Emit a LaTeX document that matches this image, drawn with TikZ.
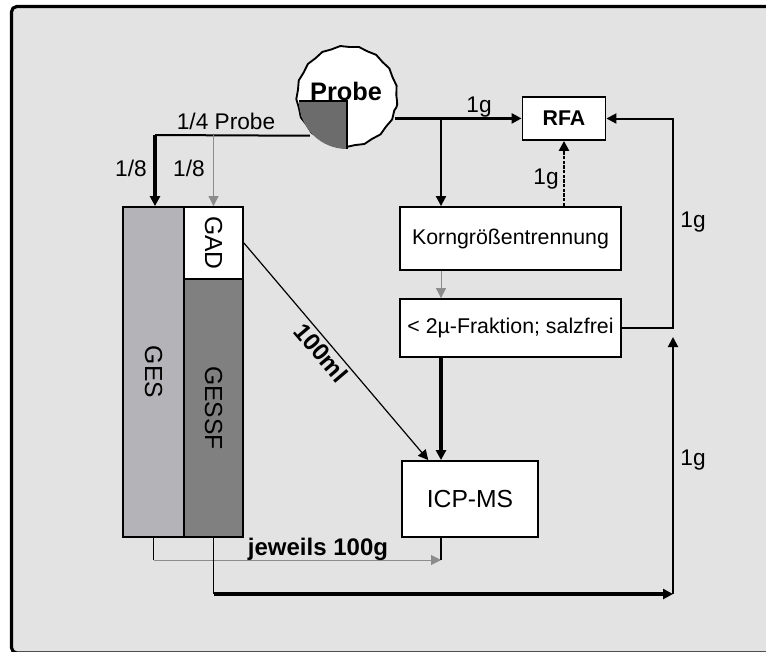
\documentclass[tikz,border=0pt]{standalone}
\usepackage{fontspec}
\setmainfont{Liberation Sans}
\usepackage{graphicx}
\usepackage{xcolor}
\usetikzlibrary{arrows.meta,decorations.pathmorphing}

\definecolor{bggray}{HTML}{E3E3E3}
\definecolor{gesgray}{HTML}{B4B4B8}
\definecolor{gessfgray}{HTML}{808080}
\definecolor{quartgray}{HTML}{6C6C6C}
\definecolor{linegray}{HTML}{8C8C8C}

\tikzset{
  box/.style={draw, line width=1.4pt, fill=white, inner sep=0pt},
  lbl/.style={font=\fontsize{17}{20}\selectfont},
  boldlbl/.style={font=\fontsize{18}{21}\selectfont\bfseries},
  thickline/.style={line width=2.3pt},
  midline/.style={line width=1.5pt},
  thinline/.style={line width=0.9pt},
  grayline/.style={line width=0.7pt, draw=linegray},
  >={Triangle[length=7.5pt,width=7.5pt]}
}

\begin{document}
\begin{tikzpicture}[x=0.75pt, y=-0.75pt]
\useasboundingbox (0,0) rectangle (766,651);
\clip (0,0) rectangle (766,651);
\draw[line width=2.4pt, fill=bggray, rounded corners=4pt] (11.5,6.5) rectangle (800,653);

\node[circle, draw, fill=white, line width=1.4pt, minimum size=75pt, inner sep=0pt,
  decorate, decoration={snake, amplitude=0.5pt, segment length=14pt}] (probe) at (347,101) {};
\fill[quartgray] (probe.center) -- ++(-48,0) arc[start angle=180, end angle=270, radius=36pt] -- cycle;
\draw[thinline] (probe.center) ++(-48,0) -- (probe.center) -- ++(0,48);
\node[font=\fontsize{19}{22}\selectfont\bfseries] (probetxt) at (346,91) {Probe};

\node[box, minimum width=62.25pt, minimum height=32.25pt, font=\fontsize{16}{19}\selectfont\bfseries] (rfa) at (564,118.5) {RFA};
\node[box, minimum width=165.75pt, minimum height=47.25pt, font=\fontsize{16}{19}\selectfont] (korn) at (510.5,238.5) {Korngrößentrennung};
\node[box, minimum width=165.75pt, minimum height=43.5pt, font=\fontsize{16}{19}\selectfont] (salz) at (510.5,328) {< 2µ-Fraktion; salzfrei};
\node[box, minimum width=102pt, minimum height=57pt, font=\fontsize{18.5}{22}\selectfont] (icp) at (470,499) {ICP-MS};

\node[box, fill=gesgray, minimum width=45.75pt, minimum height=247.5pt, font=\fontsize{18.5}{22}\selectfont] (ges) at (153.5,372) {\rotatebox{-90}{GES}};
\node[box, minimum width=44.25pt, minimum height=54pt, font=\fontsize{18.5}{22}\selectfont] (gad) at (213.5,243) {\rotatebox{-90}{GAD}};
\node[box, fill=gessfgray, minimum width=44.25pt, minimum height=193.5pt, font=\fontsize{18.5}{22}\selectfont] (gessf) at (213.5,408) {\rotatebox{-90}{GESSF}};

\coordinate (split) at (441,118);
\coordinate (rx) at (673,0);
\coordinate (q1) at (155,135);
\coordinate (q2) at (213.5,135);
\coordinate (jw) at (153.5,560);
\coordinate (bot) at (213.5,594);

\draw[thickline,->] (probe.-20) -- (probe.-20 -| rfa.west);
\draw[midline,->] (split) -- (split |- korn.north);
\draw[line width=2pt, dash pattern=on 2.5pt off 1pt, ->] (rfa.south |- korn.north) -- (rfa.south);
\draw[grayline,->] (split |- korn.south) -- (split |- salz.north);
\draw[thickline,->] (split |- salz.south) -- (split |- icp.north);
\draw[midline,->] (salz.east) -- (salz.east -| rx) |- (rfa.east);

\draw[midline] (probe.223) -- (q1);
\draw[thickline,->] (q1) -- (q1 |- ges.north);
\draw[grayline,->] (q2) -- (gad.north);

\draw[thinline,->] (gad.east) -- (icp.137)
  node[pos=0.47, sloped, below, inner sep=2pt, boldlbl] (ml) {100ml};

\draw[thinline] (ges.south) -- (jw);
\draw[grayline,->] (jw) -- (jw -| split);
\draw[thinline] (split |- icp.south) -- (jw -| split);
\draw[thinline] (gessf.south) -- (bot);
\draw[thickline,->] (bot) -- (bot -| rx);
\draw[midline,->] (bot -| rx) -- ++(0,-257);

\node[lbl] (g1) at (479,107) {1g};
\node[lbl] (g2) at (546,179) {1g};
\node[lbl] (g3) at (693,222) {1g};
\node[lbl] (g4) at (693,460) {1g};
\node[lbl] (quart) at (226,121) {1/4 Probe};
\node[lbl] (e1) at (131,168) {1/8};
\node[lbl] (e2) at (189,168) {1/8};
\node[boldlbl] (each) at (318,549) {jeweils 100g};
\end{tikzpicture}
\end{document}
